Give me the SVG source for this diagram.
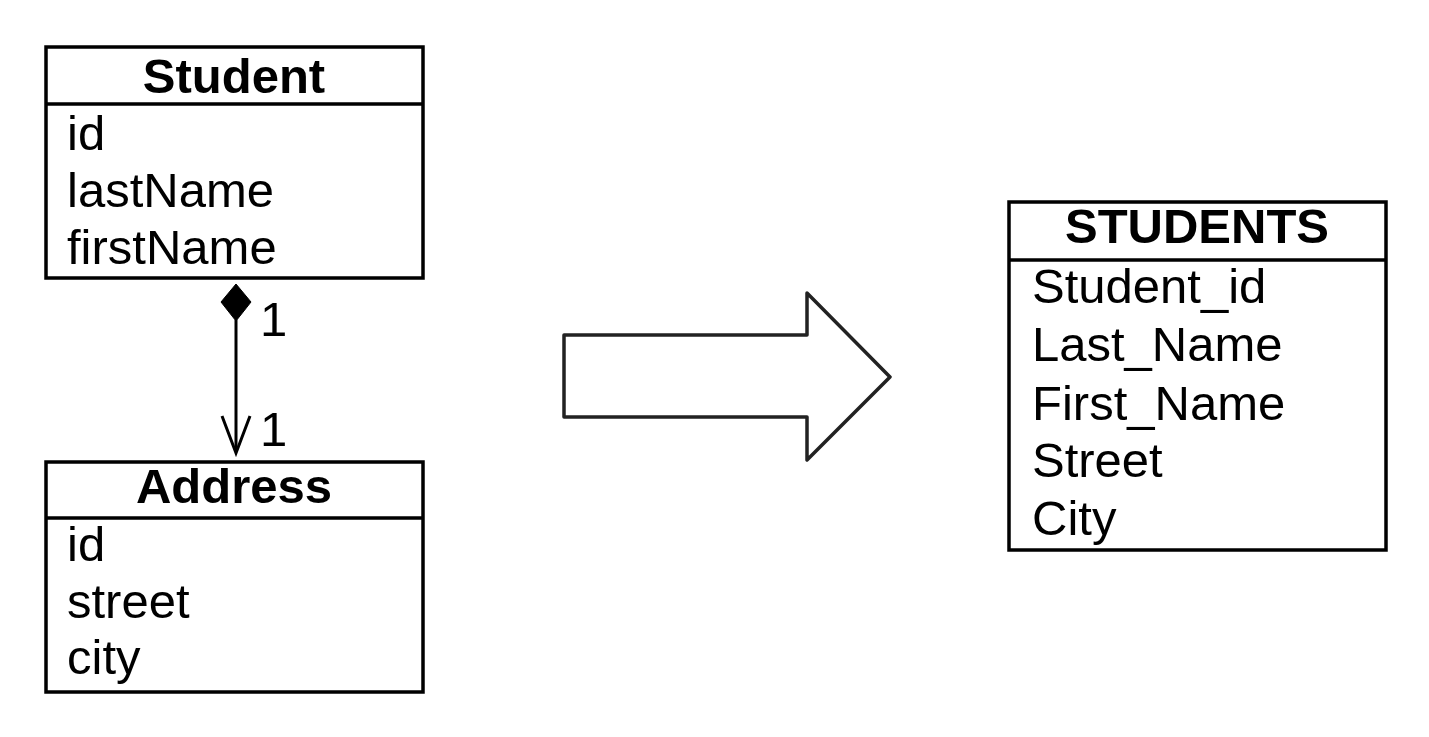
<svg xmlns="http://www.w3.org/2000/svg" width="1429" height="737" viewBox="0 0 1429 737">
<style>
.box{fill:#fff;stroke:#000;stroke-width:3.5}
.div{stroke:#000;stroke-width:3.5}
.title{font-family:"Liberation Sans",Arial,sans-serif;font-weight:bold;font-size:49px;text-anchor:middle;fill:#000}
.attr{font-family:"Liberation Sans",Arial,sans-serif;font-size:49px;fill:#000}
.line{stroke:#000;stroke-width:3;fill:none}
</style>
<rect width="1429" height="737" fill="#fff"/>
<g id="student">
<rect class="box" x="46" y="47" width="377" height="231"/>
<line class="div" x1="46" y1="104" x2="423" y2="104"/>
<text class="title" x="234" y="93">Student</text>
<text class="attr" x="67" y="150">id</text>
<text class="attr" x="67" y="207">lastName</text>
<text class="attr" x="67" y="264">firstName</text>
</g>
<g id="address">
<rect class="box" x="46" y="462" width="377" height="230"/>
<line class="div" x1="46" y1="518" x2="423" y2="518"/>
<text class="title" x="234" y="503">Address</text>
<text class="attr" x="67" y="561">id</text>
<text class="attr" x="67" y="618">street</text>
<text class="attr" x="67" y="674">city</text>
</g>
<g id="students-table">
<rect class="box" x="1009" y="202" width="377" height="348"/>
<line class="div" x1="1009" y1="260" x2="1386" y2="260"/>
<text class="title" x="1197" y="243">STUDENTS</text>
<text class="attr" x="1032" y="303">Student_id</text>
<text class="attr" x="1032" y="361">Last_Name</text>
<text class="attr" x="1032" y="420">First_Name</text>
<text class="attr" x="1032" y="477">Street</text>
<text class="attr" x="1032" y="535">City</text>
</g>
<g id="connectors">
<line class="line" x1="236" y1="320" x2="236" y2="452"/>
<polygon points="236,284 251,302 236,321 221,302" fill="#000" stroke="#000" stroke-width="1"/>
<polyline class="line" points="222,416 236,453 250,416"/>
<text class="attr" x="260" y="336">1</text>
<text class="attr" x="260" y="446">1</text>
</g>
<g id="transform-arrow">
<polygon points="564,335 807,335 807,293 890,377 807,460 807,417 564,417" fill="#fff" stroke="#222" stroke-width="3.5" stroke-linejoin="round"/>
</g>
</svg>
